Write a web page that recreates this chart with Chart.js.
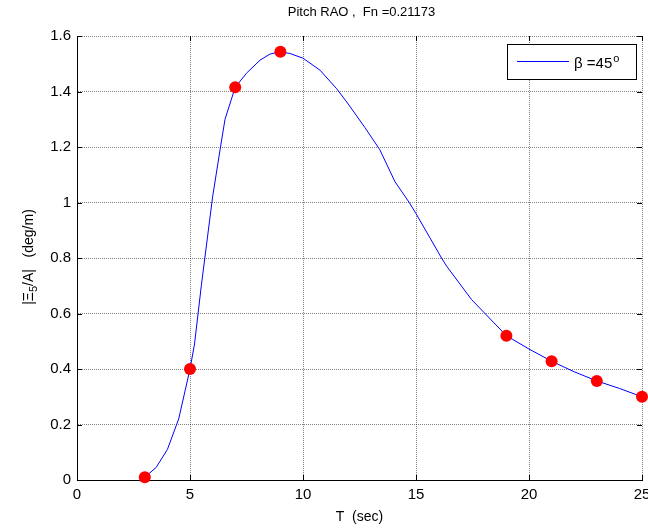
<!DOCTYPE html>
<html>
<head>
<meta charset="utf-8">
<script src="https://cdn.jsdelivr.net/npm/chart.js@4.4.1/dist/chart.umd.min.js"></script>
<style>
  html, body { margin: 0; padding: 0; background: #fff; }
  #wrap { width: 648px; height: 530px; }
</style>
</head>
<body>
<div id="wrap"><canvas id="c" width="648" height="530"></canvas></div>
<script>
// ---- data ----
const curveT = [3, 3.5, 4, 4.5, 5, 5.2, 5.5, 6, 6.33, 6.55, 7, 7.5, 8.1, 8.54, 9, 9.42, 10, 10.75, 11.49, 12, 12.74, 13.4, 14.07, 14.7, 15, 16.13, 16.36, 17.46, 19, 20, 21, 22, 23, 24, 25];
const curveV = [0.01, 0.045, 0.11, 0.22, 0.40, 0.49, 0.70, 1.02, 1.19, 1.30, 1.415, 1.466, 1.513, 1.535, 1.543, 1.537, 1.52, 1.477, 1.41, 1.355, 1.27, 1.19, 1.075, 1.0, 0.96, 0.80, 0.77, 0.65, 0.52, 0.472, 0.428, 0.39, 0.357, 0.33, 0.30];
const markT = [3, 5, 7, 9, 19, 21, 23, 25];
const markV = [0.01, 0.40, 1.415, 1.543, 0.52, 0.428, 0.357, 0.30];
const xTicks = [0, 5, 10, 15, 20, 25];
const yTicks = [0, 0.2, 0.4, 0.6, 0.8, 1, 1.2, 1.4, 1.6];
const titleText = 'Pitch RAO ,  Fn =0.21173';
const xTitle = 'T  (sec)';
const legendText = 'β =45';

const FONT = '"Liberation Sans", Arial, sans-serif';

const decorPlugin = {
  id: 'decor',
  afterDraw(chart) {
    const ctx = chart.ctx;
    const a = chart.chartArea;
    const xs = chart.scales.x, ys = chart.scales.y;
    ctx.save();
    // inner tick marks
    ctx.strokeStyle = '#000';
    ctx.lineWidth = 1;
    ctx.beginPath();
    xTicks.forEach(v => {
      const px = Math.round(xs.getPixelForValue(v)) + 0.5;
      ctx.moveTo(px, a.bottom); ctx.lineTo(px, a.bottom - 5);
      ctx.moveTo(px, a.top); ctx.lineTo(px, a.top + 5);
    });
    yTicks.forEach(v => {
      const py = Math.round(ys.getPixelForValue(v)) + 0.5;
      ctx.moveTo(a.left, py); ctx.lineTo(a.left + 5, py);
      ctx.moveTo(a.right, py); ctx.lineTo(a.right - 5, py);
    });
    ctx.stroke();

    // title
    const cx = (a.left + a.right) / 2;
    ctx.fillStyle = '#000';
    ctx.textAlign = 'center';
    ctx.textBaseline = 'middle';
    ctx.font = '13px ' + FONT;
    ctx.fillText(titleText, cx + 2, 12);
    // x title
    ctx.font = '14px ' + FONT;
    ctx.fillText(xTitle, cx, 517);

    // y title with subscript, rotated
    ctx.save();
    ctx.translate(28, 257);
    ctx.rotate(-Math.PI / 2);
    ctx.textAlign = 'left';
    ctx.textBaseline = 'alphabetic';
    const big = '14px ' + FONT, small = '11px ' + FONT;
    const p1 = '|Ξ', p2 = '5', p3 = '/A|   (deg/m)';
    ctx.font = big; const w1 = ctx.measureText(p1).width, w3 = ctx.measureText(p3).width;
    ctx.font = small; const w2 = ctx.measureText(p2).width;
    let x0 = -(w1 + w2 + w3) / 2;
    ctx.font = big; ctx.fillText(p1, x0, 5);
    ctx.font = small; ctx.fillText(p2, x0 + w1, 9);
    ctx.font = big; ctx.fillText(p3, x0 + w1 + w2, 5);
    ctx.restore();

    // legend
    ctx.fillStyle = '#fff';
    ctx.fillRect(507, 44, 130, 36);
    ctx.strokeStyle = '#000';
    ctx.lineWidth = 1;
    ctx.strokeRect(507.5, 44.5, 129, 35);
    ctx.strokeStyle = '#0000ff';
    ctx.beginPath();
    ctx.moveTo(517, 61.5); ctx.lineTo(569, 61.5);
    ctx.stroke();
    ctx.fillStyle = '#000';
    ctx.textAlign = 'left';
    ctx.textBaseline = 'alphabetic';
    ctx.font = '15px ' + FONT;
    ctx.fillText(legendText, 574, 68);
    const lw = ctx.measureText(legendText).width;
    ctx.font = '11px ' + FONT;
    ctx.fillText('o', 574 + lw + 1, 62);
    ctx.restore();
  }
};

new Chart(document.getElementById('c'), {
  type: 'scatter',
  data: {
    datasets: [
      {
        label: 'curve',
        data: curveT.map((t, i) => ({ x: t, y: curveV[i] })),
        showLine: true,
        borderColor: '#0000ff',
        borderWidth: 1,
        pointRadius: 0,
        tension: 0,
        clip: false,
        order: 2
      },
      {
        label: 'points',
        data: markT.map((t, i) => ({ x: t, y: markV[i] })),
        showLine: false,
        pointRadius: 6,
        pointBackgroundColor: '#ff0000',
        pointBorderColor: '#ff0000',
        pointBorderWidth: 0,
        clip: false,
        order: 1
      }
    ]
  },
  options: {
    responsive: false,
    animation: false,
    events: [],
    layout: { padding: { left: 0, right: 6, top: 36, bottom: 0 } },
    plugins: { legend: { display: false }, title: { display: false }, tooltip: { enabled: false } },
    scales: {
      x: {
        type: 'linear', min: 0, max: 25,
        afterBuildTicks(s) { s.ticks = xTicks.map(v => ({ value: v })); },
        afterFit(s) { s.height = 50; s.paddingLeft = 0; s.paddingRight = 0; },
        ticks: { color: '#000', font: { size: 15, family: FONT }, padding: 6, maxRotation: 0 },
        grid: { color: 'rgba(0,0,0,0.5)', drawTicks: false, lineWidth: 1 },
        border: { display: true, color: '#000', width: 1, dash: [1, 1] }
      },
      y: {
        type: 'linear', min: 0, max: 1.6,
        afterBuildTicks(s) { s.ticks = yTicks.map(v => ({ value: v })); },
        afterFit(s) { s.width = 77; s.paddingTop = 0; s.paddingBottom = 0; },
        ticks: { color: '#000', font: { size: 15, family: FONT }, padding: 6,
                 callback: v => String(Math.round(v * 10) / 10) },
        grid: { color: 'rgba(0,0,0,0.5)', drawTicks: false, lineWidth: 1 },
        border: { display: true, color: '#000', width: 1, dash: [1, 1] }
      }
    }
  },
  plugins: [decorPlugin]
});
</script>
</body>
</html>
